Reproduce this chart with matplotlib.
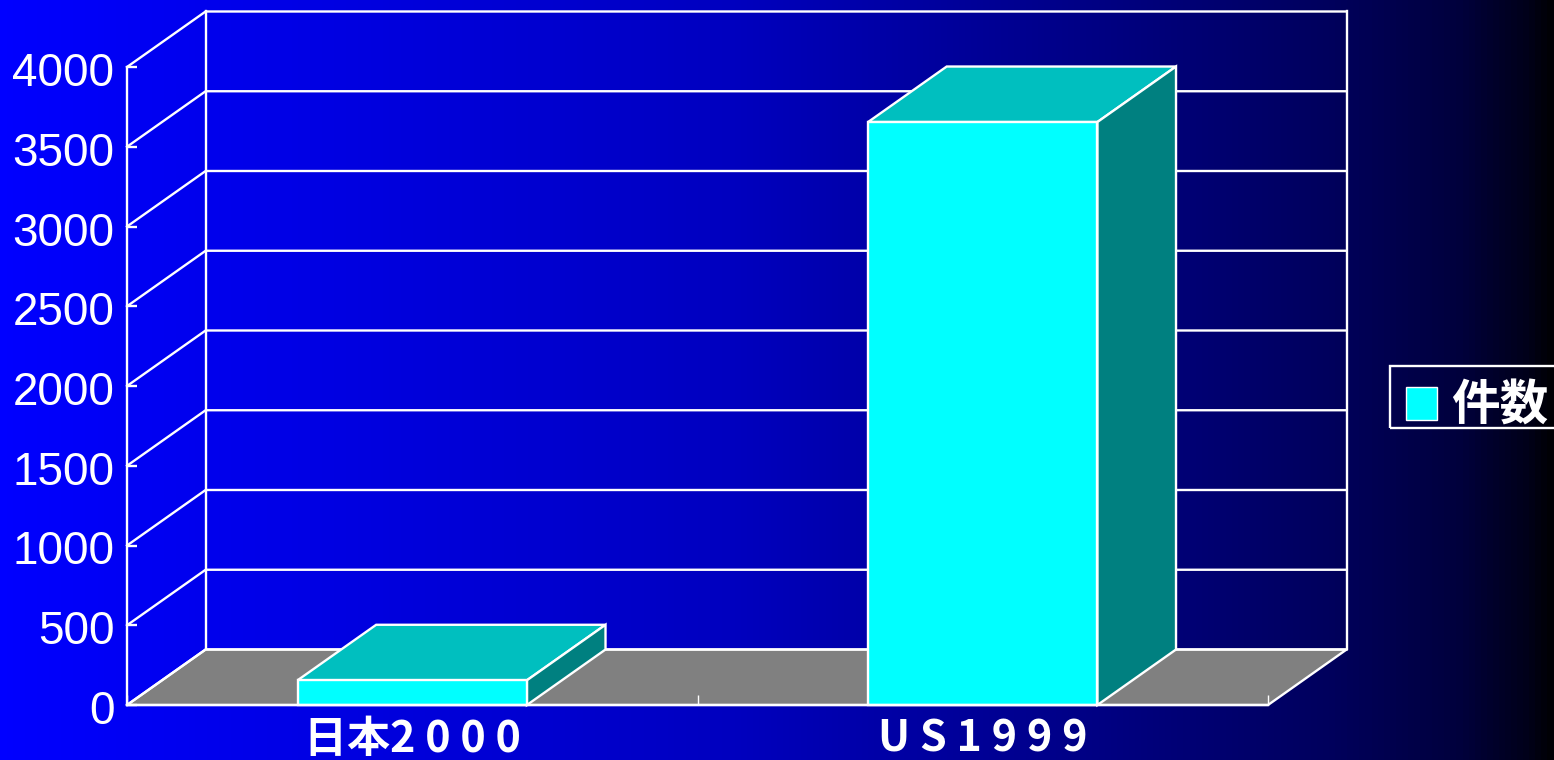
# -*- coding: utf-8 -*-
''' Libary Setup '''
import numpy as np
import matplotlib
matplotlib.use('Agg')
import matplotlib.pyplot as plt
from matplotlib.colors import LinearSegmentedColormap
from matplotlib.patches import Patch, Rectangle
from matplotlib.transforms import ScaledTranslation


''' Data '''
categories = ['日本2 0 0 0', 'U S 1 9 9 9']
values = [155, 3655]
y_ticks = [0, 500, 1000, 1500, 2000, 2500, 3000, 3500, 4000]
legend_label = '件数'

''' Style '''
W, H = 1554, 760
DPI = 100
LW = 1.7
bar_width = 0.402
depth_x = 78.6 / 570.5   # depth in category units
depth_y = 348            # depth in value units


''' Graphing '''
fig = plt.figure(figsize=(W / DPI, H / DPI), dpi=DPI)

#Background gradient
bg = fig.add_axes([0, 0, 1, 1], zorder=0)
bg_cmap = LinearSegmentedColormap.from_list('bg', [(0, (0, 0, 1)), (0.47, (0, 0, 0.75)), (0.86, (0, 0, 0.36)),
                                                   (0.94, (0, 0, 0.24)), (0.985, (0, 0, 0.1)), (1, (0, 0, 0.02))])
bg.imshow(np.linspace(0, 1, W).reshape(1, -1), aspect='auto', cmap=bg_cmap)
bg.axis('off')

ax = fig.add_axes([127 / W, 55 / H, 1141 / W, 638 / H], zorder=1)
ax.patch.set_visible(False)
ax.set_xlim(0, 2)
ax.set_ylim(0, 4000)

#Floor
ax.fill([0, 2, 2 + depth_x, depth_x], [0, 0, depth_y, depth_y], facecolor='#808080',
        edgecolor='white', lw=LW, clip_on=False, zorder=1)

#Walls and grid
for t in y_ticks:
    ax.plot([0, depth_x, 2 + depth_x], [t, t + depth_y, t + depth_y], color='white', lw=LW,
            clip_on=False, zorder=1.5)
ax.plot([depth_x, depth_x], [depth_y, 4000 + depth_y], color='white', lw=LW, clip_on=False, zorder=1.5)
ax.plot([2 + depth_x, 2 + depth_x], [depth_y, 4000 + depth_y], color='white', lw=LW, clip_on=False, zorder=1.5)

#Bars
centers = np.arange(len(values)) + 0.5
ax.bar(centers, values, bar_width, color='#00FFFF', edgecolor='white', lw=LW, clip_on=False, zorder=3)
for c, v in zip(centers, values):
    x0 = c - bar_width / 2
    x1 = c + bar_width / 2
    ax.fill([x0, x1, x1 + depth_x, x0 + depth_x], [v, v, v + depth_y, v + depth_y], facecolor='#00BFBF',
            edgecolor='white', lw=LW, clip_on=False, zorder=2)
    ax.fill([x1, x1 + depth_x, x1 + depth_x, x1], [0, depth_y, v + depth_y, v], facecolor='#008080',
            edgecolor='white', lw=LW, clip_on=False, zorder=2)

#Axes
for s in ['top', 'right']:
    ax.spines[s].set_visible(False)
for s in ['left', 'bottom']:
    ax.spines[s].set_color('white')
    ax.spines[s].set_linewidth(LW)
    ax.spines[s].set_zorder(4)

ax.set_yticks(y_ticks)
ax.tick_params(axis='y', direction='in', length=7.2, width=LW, color='white', labelcolor='white', pad=9)
for label in ax.get_yticklabels():
    label.set_fontfamily('Liberation Sans')
    label.set_fontsize(33)
    label.set_transform(label.get_transform() + ScaledTranslation(0, -2 / DPI, fig.dpi_scale_trans))

ax.set_xticks([0, 1, 2])
ax.set_xticklabels([])
ax.tick_params(axis='x', which='major', direction='in', length=7.2, width=1, color='white', zorder=5)
ax.set_xticks(centers, minor=True)
ax.set_xticklabels(categories, minor=True, fontsize=31, family='Noto Sans CJK JP', weight='bold', color='white')
ax.tick_params(axis='x', which='minor', length=0, pad=8.6)

#Legend, frame drawn by hand as the font line height makes the legend's own too tall
fig.legend(handles=[Patch(facecolor='#00FFFF', edgecolor='white', lw=1, label=legend_label)],
           loc='upper left', bbox_to_anchor=(1390 / W, 1 - 366 / H), borderaxespad=0,
           frameon=False, labelcolor='white',
           prop={'family': 'Noto Sans CJK JP', 'weight': 'bold', 'size': 35},
           handlelength=0.64, handleheight=0.64, handletextpad=0.29, borderpad=0.32)
fig.add_artist(Rectangle((1390 / W, 1 - 428 / H), 170 / W, 62 / H, transform=fig.transFigure,
                         facecolor='none', edgecolor='white', lw=LW))

fig.savefig('out.png', dpi=DPI)
